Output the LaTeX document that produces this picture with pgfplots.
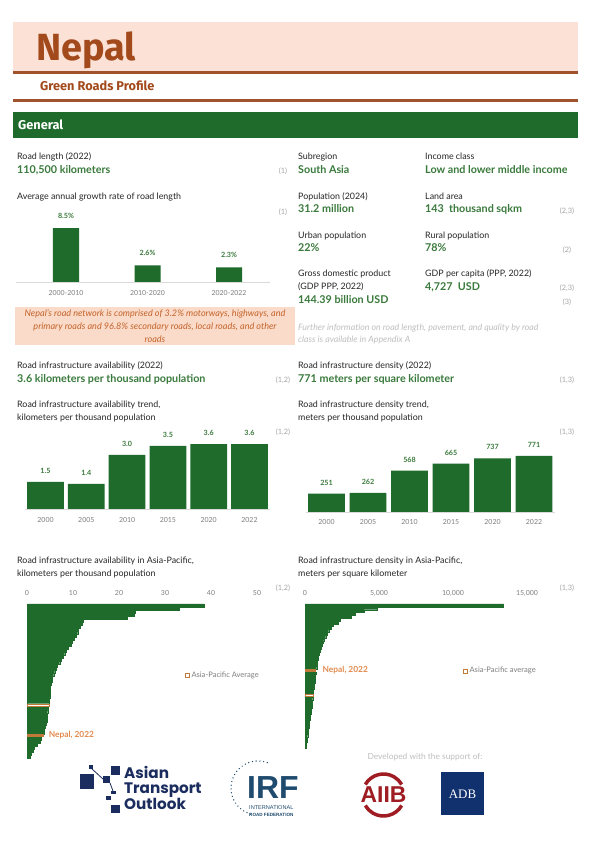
\documentclass[border=0pt]{standalone}
\usepackage{fontspec}
\setmainfont{Lato}
\newfontfamily\titlefont{Fira Sans}
\newfontfamily\popfont{Poppins}
\newfontfamily\arialfont{Liberation Sans}
\newfontfamily\serfont{Liberation Serif}
\usepackage{pgfplots}
\pgfplotsset{compat=1.18}
\definecolor{barG}{HTML}{1E6B2B}
\definecolor{txtG}{HTML}{3A7A3C}
\definecolor{titleBrown}{HTML}{A34A1C}
\definecolor{lineBrown}{HTML}{A0522D}
\definecolor{peach}{HTML}{FCE2D6}
\definecolor{peachBox}{HTML}{FADBC9}
\definecolor{orangeT}{HTML}{C4632B}
\definecolor{refG}{HTML}{A6A6A6}
\definecolor{noteG}{HTML}{BFBFBF}
\definecolor{tickG}{HTML}{7F7F7F}
\definecolor{axisG}{HTML}{D9D9D9}
\definecolor{labK}{HTML}{262626}
\definecolor{nepalO}{HTML}{C27A3A}
\definecolor{nepalT}{HTML}{E38B4F}
\definecolor{navy}{HTML}{1B2C5E}
\definecolor{irfC}{HTML}{1F4B6E}
\definecolor{aiibR}{HTML}{9E1C22}
\definecolor{adbB}{HTML}{10306E}
\newcommand{\lab}{\color{labK}\fontsize{8.9}{10}\selectfont}
\newcommand{\val}{\color{txtG}\bfseries\fontsize{10.8}{12}\selectfont}
\newcommand{\refs}{\color{refG}\fontsize{7.4}{8}\selectfont}
\newcommand{\tickf}{\fontsize{7}{8}\selectfont}
\newcommand{\tx}[4]{\node[anchor=base west,inner sep=0pt,font=#3] at (#1,#2) {#4};}
\newcommand{\rf}[3]{\node[anchor=base,inner sep=0pt,font=\refs] at (#1,#2) {#3};}
\pgfplotsset{
  /pgf/number format/assume math mode=true,
  barbase/.style={scale only axis, clip=false, major tick length=0pt, ytick=\empty,
    axis y line=none, axis x line*=bottom, axis line style={-}, x axis line style={-,draw=axisG, line width=0.6pt},
    ybar, bar shift=0pt, ymin=0,
    xticklabel style={font=\tickf, text=tickG},
    nodes near coords style={font=\bfseries\fontsize{7.2}{8}\selectfont, text=txtG}},
  hbase/.style={scale only axis, clip=false, major tick length=0pt, ytick=\empty,
    axis x line*=top, axis y line*=left, axis line style={-},
    x axis line style={draw=none}, y axis line style={-,draw=axisG,line width=0.6pt},
    xbar, bar shift=0pt, bar width=1, ymin=0.5, ymax=51.5,
    xticklabel style={font=\tickf, text=tickG, yshift=4.5bp},
    /pgf/number format/1000 sep={,}, scaled x ticks=false,
    legend style={draw=none, fill=none, font=\fontsize{7.6}{8}\selectfont, text=tickG, inner sep=0pt},
    legend cell align=left}
}
\begin{document}
\begin{tikzpicture}[x=1bp,y=1bp]
\fill[white] (0,0) rectangle (596,842);
\begin{scope}[shift={(0,842)},y=-1bp]
% header
\fill[peach] (13,22) rectangle (578,71);
\fill[lineBrown] (13,71) rectangle (578,74);
\fill[lineBrown] (13,99) rectangle (578,102);
\node[anchor=base west,inner sep=0pt,text=titleBrown,font=\titlefont\bfseries\fontsize{38}{40}\selectfont] at (36,61) {Nepal};
\node[anchor=base west,inner sep=0pt,text=titleBrown,font=\titlefont\bfseries\fontsize{12.8}{14}\selectfont] at (40,90.5) {Green Roads Profile};
\fill[barG] (13,112) rectangle (578,138);
\node[anchor=base west,inner sep=0pt,text=white,font=\titlefont\bfseries\fontsize{12.8}{14}\selectfont] at (18,129.5) {General};
% left column general
\tx{17}{160}{\lab}{Road length (2022)}
\tx{17}{174}{\val}{110,500 kilometers}
\rf{283}{174}{(1)}
\tx{17}{200}{\lab}{Average annual growth rate of road length}
\rf{283}{214.5}{(1)}
\fill[peachBox] (15,307) rectangle (295,345);
\node[anchor=base,inner sep=0pt,text=orangeT,font=\itshape\fontsize{9.1}{10}\selectfont] at (155,316.8) {Nepal's road network is comprised of 3.2\% motorways, highways, and};
\node[anchor=base,inner sep=0pt,text=orangeT,font=\itshape\fontsize{9.1}{10}\selectfont] at (155,329.8) {primary roads and 96.8\% secondary roads, local roads, and other};
\node[anchor=base,inner sep=0pt,text=orangeT,font=\itshape\fontsize{9.1}{10}\selectfont] at (155,342.6) {roads};
% right column general
\tx{298}{160}{\lab}{Subregion}
\tx{298}{174}{\val}{South Asia}
\tx{425}{160}{\lab}{Income class}
\tx{425}{174}{\val}{Low and lower middle income}
\tx{298}{200}{\lab}{Population (2024)}
\tx{298}{213}{\val}{31.2 million}
\tx{425}{200}{\lab}{Land area}
\tx{425}{213}{\val}{143\ \ thousand sqkm}
\rf{567}{213.5}{(2,3)}
\tx{298}{239}{\lab}{Urban population}
\tx{298}{252}{\val}{22\%}
\tx{425}{239}{\lab}{Rural population}
\tx{425}{252}{\val}{78\%}
\rf{567}{252.5}{(2)}
\tx{298}{277}{\lab}{Gross domestic product}
\tx{298}{290}{\lab}{(GDP PPP, 2022)}
\tx{298}{304}{\val}{144.39 billion USD}
\tx{425}{277}{\lab}{GDP per capita (PPP, 2022)}
\tx{425}{291}{\val}{4,727\ \ USD}
\rf{567}{291}{(2,3)}
\rf{567}{305}{(3)}
\tx{298}{331}{\color{noteG}\itshape\fontsize{8.8}{10}\selectfont}{Further information on road length, pavement, and quality by road}
\tx{298}{343}{\color{noteG}\itshape\fontsize{8.8}{10}\selectfont}{class is available in Appendix A}
% section 2
\tx{17}{369}{\lab}{Road infrastructure availability (2022)}
\tx{17}{383}{\val}{3.6 kilometers per thousand population}
\rf{283}{382.5}{(1,2)}
\tx{298}{369}{\lab}{Road infrastructure density (2022)}
\tx{298}{383}{\val}{771 meters per square kilometer}
\rf{567}{382.5}{(1,3)}
\tx{17}{408}{\lab}{Road infrastructure availability trend,}
\tx{17}{421}{\lab}{kilometers per thousand population}
\rf{283}{434.5}{(1,2)}
\tx{298}{408}{\lab}{Road infrastructure density trend,}
\tx{298}{421}{\lab}{meters per thousand population}
\rf{567}{434.5}{(1,3)}
% section 3
\tx{17}{564}{\lab}{Road infrastructure availability in Asia-Pacific,}
\tx{17}{577}{\lab}{kilometers per thousand population}
\rf{283}{590.5}{(1,2)}
\tx{298}{564}{\lab}{Road infrastructure density in Asia-Pacific,}
\tx{298}{577}{\lab}{meters per square kilometer}
\rf{567}{590.5}{(1,3)}
% logos
\node[inner sep=0pt,text=noteG,font=\fontsize{8.4}{9}\selectfont] at (425,757) {Developed with the support of:};
\fill[navy] (80,774.5) rectangle (93.5,789);
\fill[navy] (88.5,765) rectangle (92.5,769);
\fill[navy] (103,776) rectangle (110,783);
\fill[navy] (110.7,766) rectangle (120,775);
\fill[navy] (106,796) rectangle (110.7,800);
\fill[navy] (110.7,791) rectangle (116.4,794.5);
\fill[navy] (110.7,805) rectangle (120,813);
\draw[navy,line width=0.8] (92,769) -- (103,779);
\draw[navy,line width=0.8] (110,783) -- (113,791);
\node[anchor=base west,inner sep=0pt,text=navy,font=\popfont\bfseries\fontsize{15.3}{16}\selectfont] at (124,778.5) {Asian};
\node[anchor=base west,inner sep=0pt,text=navy,font=\popfont\bfseries\fontsize{15.3}{16}\selectfont] at (124,794) {Transport};
\node[anchor=base west,inner sep=0pt,text=navy,font=\popfont\bfseries\fontsize{15.3}{16}\selectfont] at (124,809.5) {Outlook};
\foreach \a in {70,78,...,260} \fill[irfC] ({258+27*cos(\a)},{788-27*sin(\a)}) circle (0.7);
\node[anchor=base west,inner sep=0pt,text=irfC,font=\arialfont\bfseries\fontsize{32}{33}\selectfont] at (247,799) {IRF};
\node[anchor=base west,inner sep=0pt,text=irfC,font=\arialfont\fontsize{5.6}{6}\selectfont] at (249,810) {INTERNATIONAL};
\node[anchor=base west,inner sep=0pt,text=irfC,font=\arialfont\bfseries\fontsize{4.6}{5}\selectfont] at (249,816.5) {ROAD FEDERATION};
\node[inner sep=0pt,text=aiibR,font=\arialfont\bfseries\fontsize{23}{24}\selectfont] at (383.5,795) {AIIB};
\draw[aiibR,line width=3.5] (383.5,795) ++(210:21) arc[start angle=210,end angle=330,radius=21];
\draw[aiibR,line width=3.5] (383.5,795) ++(30:21) arc[start angle=30,end angle=150,radius=21];
\fill[adbB] (441,772) rectangle (484,815);
\node[inner sep=0pt,text=white,font=\serfont\fontsize{13}{13}\selectfont] at (462.5,794) {ADB};
\end{scope}

% growth chart
\begin{axis}[barbase, at={(15.5bp,560bp)}, anchor=south west,
  width=254.3bp, height=63.5bp, ymax=10, xmin=-0.62, xmax=2.5, bar width=0.32,
  xtick={0,1,2}, xticklabels={2000-2010,2010-2020,2020-2022},
  xticklabel style={yshift=-5bp},
  nodes near coords={\pgfmathprintnumber[fixed,fixed zerofill,precision=1]{\pgfplotspointmeta}\%},
  nodes near coords style={yshift=6bp}]
\addplot[fill=barG,draw=none] coordinates {(0,8.5) (1,2.6) (2,2.3)};
\end{axis}

% availability trend
\begin{axis}[barbase, at={(25.1bp,333bp)}, anchor=south west,
  width=244.8bp, height=81bp, ymax=4.5, xmin=-0.5, xmax=5.5, bar width=0.9,
  xtick={0,...,5}, xticklabels={2000,2005,2010,2015,2020,2022},
  xticklabel style={yshift=-4.5bp},
  nodes near coords={\pgfmathprintnumber[fixed,fixed zerofill,precision=1]{\pgfplotspointmeta}},
  nodes near coords style={yshift=5bp}]
\addplot[fill=barG,draw=none] coordinates {(0,1.5) (1,1.4) (2,3.0) (3,3.5) (4,3.6) (5,3.6)};
\end{axis}

% density trend
\begin{axis}[barbase, at={(305.75bp,330bp)}, anchor=south west,
  width=249bp, height=72.7bp, ymax=1000, xmin=-0.5, xmax=5.5, bar width=0.89,
  xtick={0,...,5}, xticklabels={2000,2005,2010,2015,2020,2022},
  xticklabel style={yshift=-4bp},
  nodes near coords={\pgfmathprintnumber[fixed,precision=0]{\pgfplotspointmeta}},
  nodes near coords style={yshift=5bp}]
\addplot[fill=barG,draw=none] coordinates {(0,251) (1,262) (2,568) (3,665) (4,737) (5,771)};
\end{axis}

% availability Asia-Pacific
\begin{axis}[hbase, at={(27bp,238bp)}, anchor=north west,
  width=230bp, height=154bp, xmin=0, xmax=50, xtick={0,10,...,50},
  legend style={at={(0.685,0.535)}, anchor=west}]
\addplot[fill=barG,draw=barG,line width=0.2pt,forget plot] coordinates {
(38.5,51) (33.0,50) (23.5,49) (23.3,48) (21.7,47) (12.3,46) (12.0,45) (11.5,44)
(11.2,43) (11.0,42) (10.6,41) (10.3,40) (9.9,39) (9.6,38) (9.0,37) (8.6,36)
(8.2,35) (7.9,34) (7.5,33) (7.1,32) (6.6,31) (6.3,30) (6.0,29) (5.8,28)
(5.5,27) (5.4,26) (5.2,25) (5.1,24) (5.1,23) (5.0,22) (5.0,21) (4.9,20)
(4.8,19) (4.6,17) (4.5,16) (4.4,15) (4.3,14) (4.3,13) (4.2,12) (4.0,11)
(3.8,10) (3.7,9) (3.1,7) (2.8,6) (2.3,5) (1.5,4) (1.3,3) (0.9,2) (0.6,1)};
\addplot[fill=nepalO,draw=none,forget plot] coordinates {(3.6,8)};
\addplot[fill=white,draw=nepalO,line width=0.7pt,bar width=0.75,
  legend image code/.code={\draw[nepalO,fill=white,line width=0.6pt] (0pt,-2.1pt) rectangle (4.2pt,2.1pt);}]
  coordinates {(4.8,18)};
\addlegendentry{Asia-Pacific Average}
\node[anchor=west,inner sep=0pt,text=nepalT,font=\bfseries\fontsize{8.4}{9}\selectfont,xshift=5bp] at (axis cs:3.6,8) {Nepal, 2022};
\end{axis}

% density Asia-Pacific
\begin{axis}[hbase, at={(305bp,238bp)}, anchor=north west,
  width=222bp, height=144bp, xmin=0, xmax=15000, xtick={0,5000,10000,15000},
  legend style={at={(0.71,0.535)}, anchor=west}]
\addplot[fill=barG,draw=barG,line width=0.2pt,forget plot] coordinates {
(13400,51) (4900,50) (4000,49) (3400,48) (3100,47) (2400,46) (2250,45) (1900,44)
(1750,43) (1600,42) (1500,41) (1400,40) (1320,39) (1220,38) (1150,37) (1080,36)
(1020,35) (960,34) (900,33) (870,32) (840,31) (810,30) (790,29)
(740,27) (710,26) (690,25) (670,24) (640,23) (610,22) (580,21) (560,20)
(520,18) (500,17) (480,16) (460,15) (440,14) (400,13) (370,12) (340,11)
(310,10) (290,9) (270,8) (240,7) (210,6) (180,5) (150,4) (120,3) (90,2) (50,1)};
\addplot[fill=nepalO,draw=none,forget plot] coordinates {(771,28)};
\addplot[fill=white,draw=nepalO,line width=0.7pt,bar width=0.75,
  legend image code/.code={\draw[nepalO,fill=white,line width=0.6pt] (0pt,-2.1pt) rectangle (4.2pt,2.1pt);}]
  coordinates {(540,19)};
\addlegendentry{Asia-Pacific average}
\node[anchor=west,inner sep=0pt,text=nepalT,font=\bfseries\fontsize{8.4}{9}\selectfont,xshift=6bp] at (axis cs:771,28) {Nepal, 2022};
\end{axis}
\end{tikzpicture}
\end{document}
